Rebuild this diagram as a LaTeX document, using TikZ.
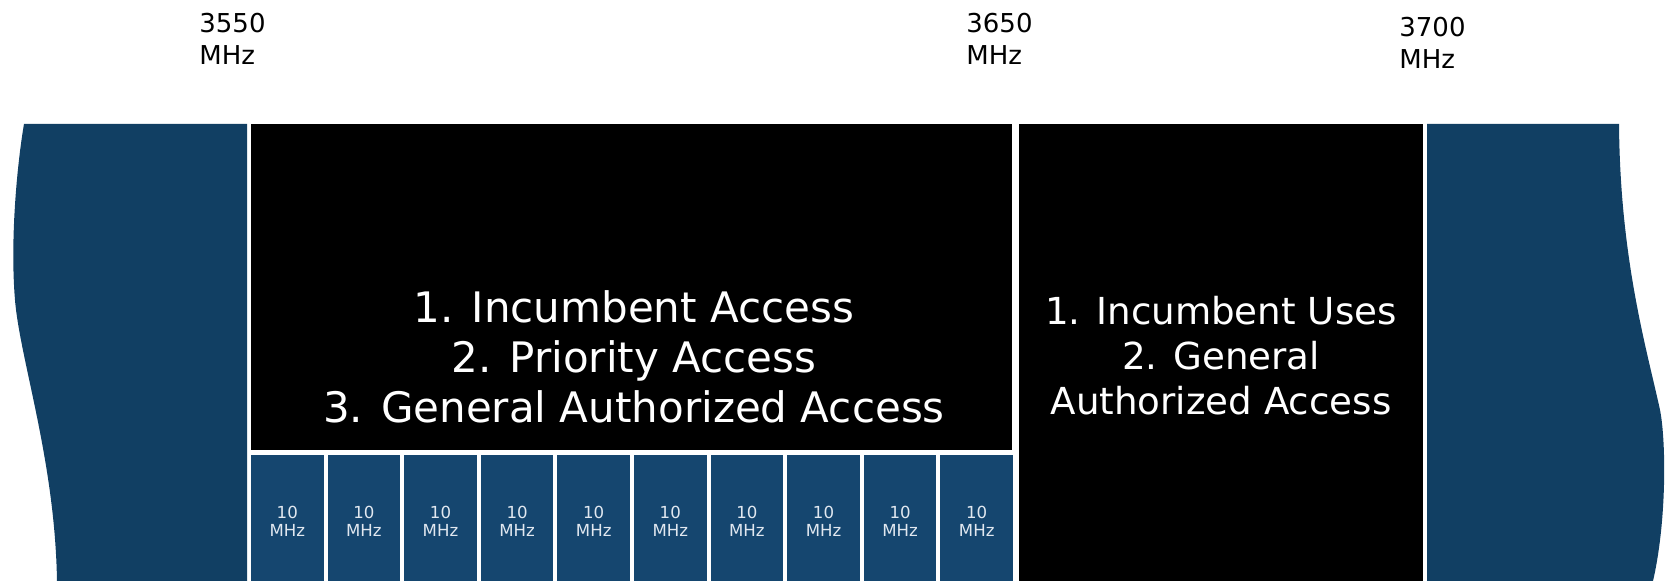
\documentclass[tikz,border=0pt]{standalone}
\usepackage{fontspec}
\setmainfont{DejaVu Sans}
\usetikzlibrary{positioning}
\definecolor{bandblue}{RGB}{17,63,99}
\definecolor{chanblue}{RGB}{21,70,111}
\definecolor{chantext}{RGB}{225,232,240}

\begin{document}
\begin{tikzpicture}[x=0.5pt, y=-0.5pt]

    % Define block styles
    \tikzstyle{tier} = [rectangle, fill=black, inner sep=0pt]
    \tikzstyle{channel} = [rectangle, fill=chanblue, text=chantext, inner sep=0pt,
        minimum width=36.3pt, minimum height=66pt, align=center,
        font=\fontsize{8.3}{9}\selectfont]
    \tikzstyle{freq} = [anchor=north west, inner sep=0pt, align=left,
        font=\fontsize{13}{16}\selectfont]
    \tikzstyle{tiertext} = [text=white, align=center, inner sep=0pt]

    \useasboundingbox (0,0) rectangle (1669,581);

    % Side bands
    \fill[bandblue] (24,124) -- (247,124) -- (247,581) -- (57,581)
        .. controls (55,460) and (20,360) .. (15,300)
        .. controls (10,240) and (17,165) .. (24,124) -- cycle;
    \fill[bandblue] (1427,124) -- (1619,124)
        .. controls (1620,260) and (1647,350) .. (1660,410)
        .. controls (1666,440) and (1667,520) .. (1653,581)
        -- (1427,581) -- cycle;

    % Define nodes
    \node [tier, minimum width=380.5pt, minimum height=163pt] (pal) at (631.5,287) {};
    \node [tiertext, font=\fontsize{21}{25}\selectfont] (paltext) at (634,357)
        {1. Incumbent Access\\2. Priority Access\\3. General Authorized Access};
    \node [tier, tiertext, minimum width=202pt, minimum height=232pt,
        font=\fontsize{18.6}{22.5}\selectfont] (gaa) at (1221,356)
        {1. Incumbent Uses\\2. General\\Authorized Access};

    % Channels
    \foreach \i in {0,...,9}
        \node [channel] (ch\i) at ({287.3+76.6*\i},521) {10\\MHz};

    % Band edges
    \node [freq] (f3550) at (199,13) {3550\\MHz};
    \node [freq] (f3650) at (966,13) {3650\\MHz};
    \node [freq] (f3700) at (1399,17) {3700\\MHz};

\end{tikzpicture}
\end{document}
